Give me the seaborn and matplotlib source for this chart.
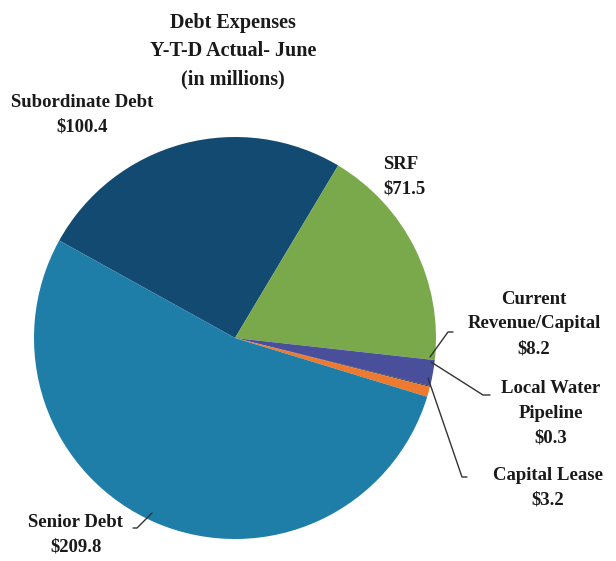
import matplotlib
matplotlib.use("Agg")
import matplotlib.pyplot as plt
import seaborn as sns

sns.set_theme(style="white")
plt.rcParams["font.family"] = ["Liberation Serif", "DejaVu Serif"]

# Debt expense categories, year-to-date through June (in millions)
categories = ["Subordinate Debt", "SRF", "Current Revenue/Capital",
              "Local Water Pipeline", "Capital Lease", "Senior Debt"]
values = [100.4, 71.5, 8.2, 0.3, 3.2, 209.8]
label_text = ["Subordinate Debt\n$100.4", "SRF\n$71.5",
              "Current\nRevenue/Capital\n$8.2", "Local Water\nPipeline\n$0.3",
              "Capital Lease\n$3.2", "Senior Debt\n$209.8"]
colors = ["#124a72", "#7aa94c", "#4a4f9c", "#2b2b3a", "#ee7a30", "#1f7ea8"]

W, H = 616, 561


def px(x, y):
    """Pixel position (origin top-left) to axes coordinates."""
    return (x, H - y)


fig = plt.figure(figsize=(W / 100, H / 100), dpi=100)
ax = fig.add_axes([0, 0, 1, 1])

ax.pie(values, colors=colors, startangle=151, counterclock=False,
       center=px(235, 338), radius=201,
       wedgeprops=dict(linewidth=0))
ax.set_xlim(0, W)
ax.set_ylim(0, H)
ax.set_aspect("equal")
ax.axis("off")

fs = 13.5
txt = "#1a1a1a"
ax.text(*px(233, 51), "Debt Expenses\nY-T-D Actual- June\n(in millions)",
        ha="center", va="center", fontsize=14.5, fontweight="bold",
        linespacing=1.55, color=txt)

# labels placed beside the pie
kw = dict(fontsize=fs, fontweight="bold", linespacing=1.6, color=txt,
          va="center")
ax.text(*px(82, 115), label_text[0], ha="center", **kw)
ax.text(*px(383, 177), label_text[1], ha="left", **kw)
ax.text(*px(534, 324), label_text[2], ha="center", **kw)
ax.text(*px(551, 413), label_text[3], ha="center", **kw)
ax.text(*px(548, 488), label_text[4], ha="center", **kw)
ax.text(*px(76, 535), label_text[5], ha="center", **kw)

# leader lines
leaders = [
    [(430, 357), (448, 332), (453, 332)],
    [(431, 362), (483, 395), (490, 395)],
    [(428, 378), (462, 477), (467, 477)],
    [(152, 513), (137, 528), (133, 528)],
]
for pts in leaders:
    xs, ys = zip(*[px(x, y) for x, y in pts])
    ax.plot(xs, ys, color="#333333", linewidth=1.0)

fig.savefig("out.png", dpi=100, facecolor="white")
